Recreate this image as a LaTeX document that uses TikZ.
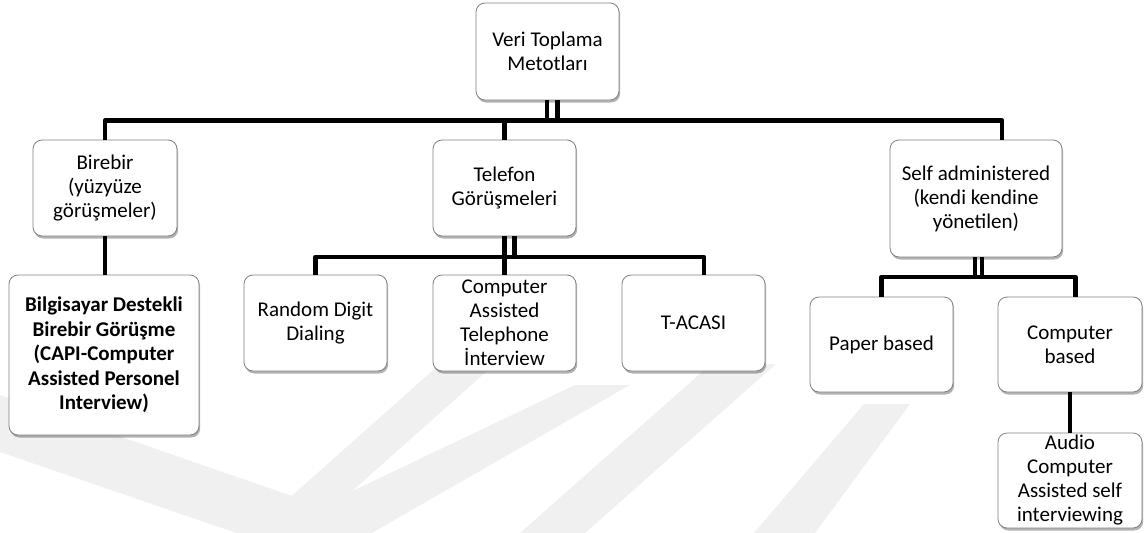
\documentclass[tikz,border=0pt]{standalone}
\usepackage{fontspec}
\setmainfont{Carlito}
\usetikzlibrary{shadows}
\begin{document}
\begin{tikzpicture}[x=1pt,y=-1pt,
  box/.style={draw={rgb,255:red,128;green,128;blue,128}, line width=0.8pt,
    fill=white, rounded corners=9pt, inner sep=0pt, align=center,
    font=\fontsize{21}{24}\selectfont,
    drop shadow={shadow xshift=1.2pt, shadow yshift=-2.5pt, opacity=0.3, fill=black}},
  conn/.style={line width=4.5pt, line join=round},
  wm/.style={fill=black!6, draw=none}]
\path[use as bounding box] (0,0) rectangle (1144,533);
\begin{scope}
\clip (0,0) rectangle (1144,533);
% faint background emblem
\fill[wm] (0,395) -- (321,506) -- (575,385) -- (630,385) -- (321,562) -- (0,452) -- cycle;
\fill[wm] (520,533) -- (711,364) -- (776,364) -- (585,533) -- cycle;
\fill[wm] (754,533) -- (864,404) -- (910,404) -- (815,533) -- cycle;
\fill[wm] (250,533) -- (440,364) -- (495,364) -- (305,533) -- cycle;
\end{scope}

% boxes
\node[box, minimum width=143pt, minimum height=97pt] (root) at (547.5,51.5) {Veri Toplama\\Metotları};
\node[box, minimum width=144pt, minimum height=96pt] (bir) at (105,188) {Birebir\\(yüzyüze\\görüşmeler)};
\node[box, minimum width=143pt, minimum height=96pt] (tel) at (504.5,188) {Telefon\\Görüşmeleri};
\node[box, minimum width=172pt, minimum height=117pt] (self) at (976,198.5) {Self administered\\(kendi kendine\\yönetilen)};
\node[box, minimum width=190pt, minimum height=160pt, font=\fontsize{21}{24.5}\selectfont\bfseries] (capi) at (104,355)
  {Bilgisayar Destekli\\Birebir Görüşme\\(CAPI-Computer\\Assisted Personel\\Interview)};
\node[box, minimum width=143pt, minimum height=96pt] (rdd) at (315.5,323) {Random Digit\\Dialing};
\node[box, minimum width=143pt, minimum height=96pt] (cati) at (504.5,323) {Computer\\Assisted\\Telephone\\İnterview};
\node[box, minimum width=143pt, minimum height=96pt] (tacasi) at (693.5,323) {T-ACASI};
\node[box, minimum width=143pt, minimum height=95pt] (paper) at (881.5,344.5) {Paper based};
\node[box, minimum width=144pt, minimum height=95pt] (comp) at (1070,344.5) {Computer\\based};
\node[box, minimum width=144pt, minimum height=95pt] (audio) at (1070,480.5) {Audio\\Computer\\Assisted self\\interviewing};

% bus lines
\coordinate (bus1) at (547,120.5);
\coordinate (bus2) at (504.5,257);
\coordinate (bus3) at (978,277);

% first level
\draw[conn] (bir.north) |- (bus1) -| ([xshift=26pt]self.north);
\draw[conn] (tel.north) -- (tel.north |- bus1);
\draw[conn] ([xshift=-0.5pt]root.south) -- ([xshift=-0.5pt]root.south |- bus1);
\draw[conn] ([xshift=10pt]root.south) -- ([xshift=10pt]root.south |- bus1);

% telephone branch
\draw[conn] (rdd.north) |- (bus2) -| ([xshift=10.5pt]tacasi.north);
\draw[conn] (tel.south) -- (cati.north);
\draw[conn] ([xshift=10pt]tel.south) -- ([xshift=10pt]tel.south |- bus2);

% self administered branch
\draw[conn] (paper.north) |- (bus3) -| ([xshift=5.5pt]comp.north);
\draw[conn] ([xshift=-1pt]self.south) -- ([xshift=-1pt]self.south |- bus3);
\draw[conn] ([xshift=6pt]self.south) -- ([xshift=6pt]self.south |- bus3);

% single links
\draw[conn] (bir.south) -- (bir.south |- capi.north);
\draw[conn] (comp.south) -- (audio.north);
\end{tikzpicture}
\end{document}
